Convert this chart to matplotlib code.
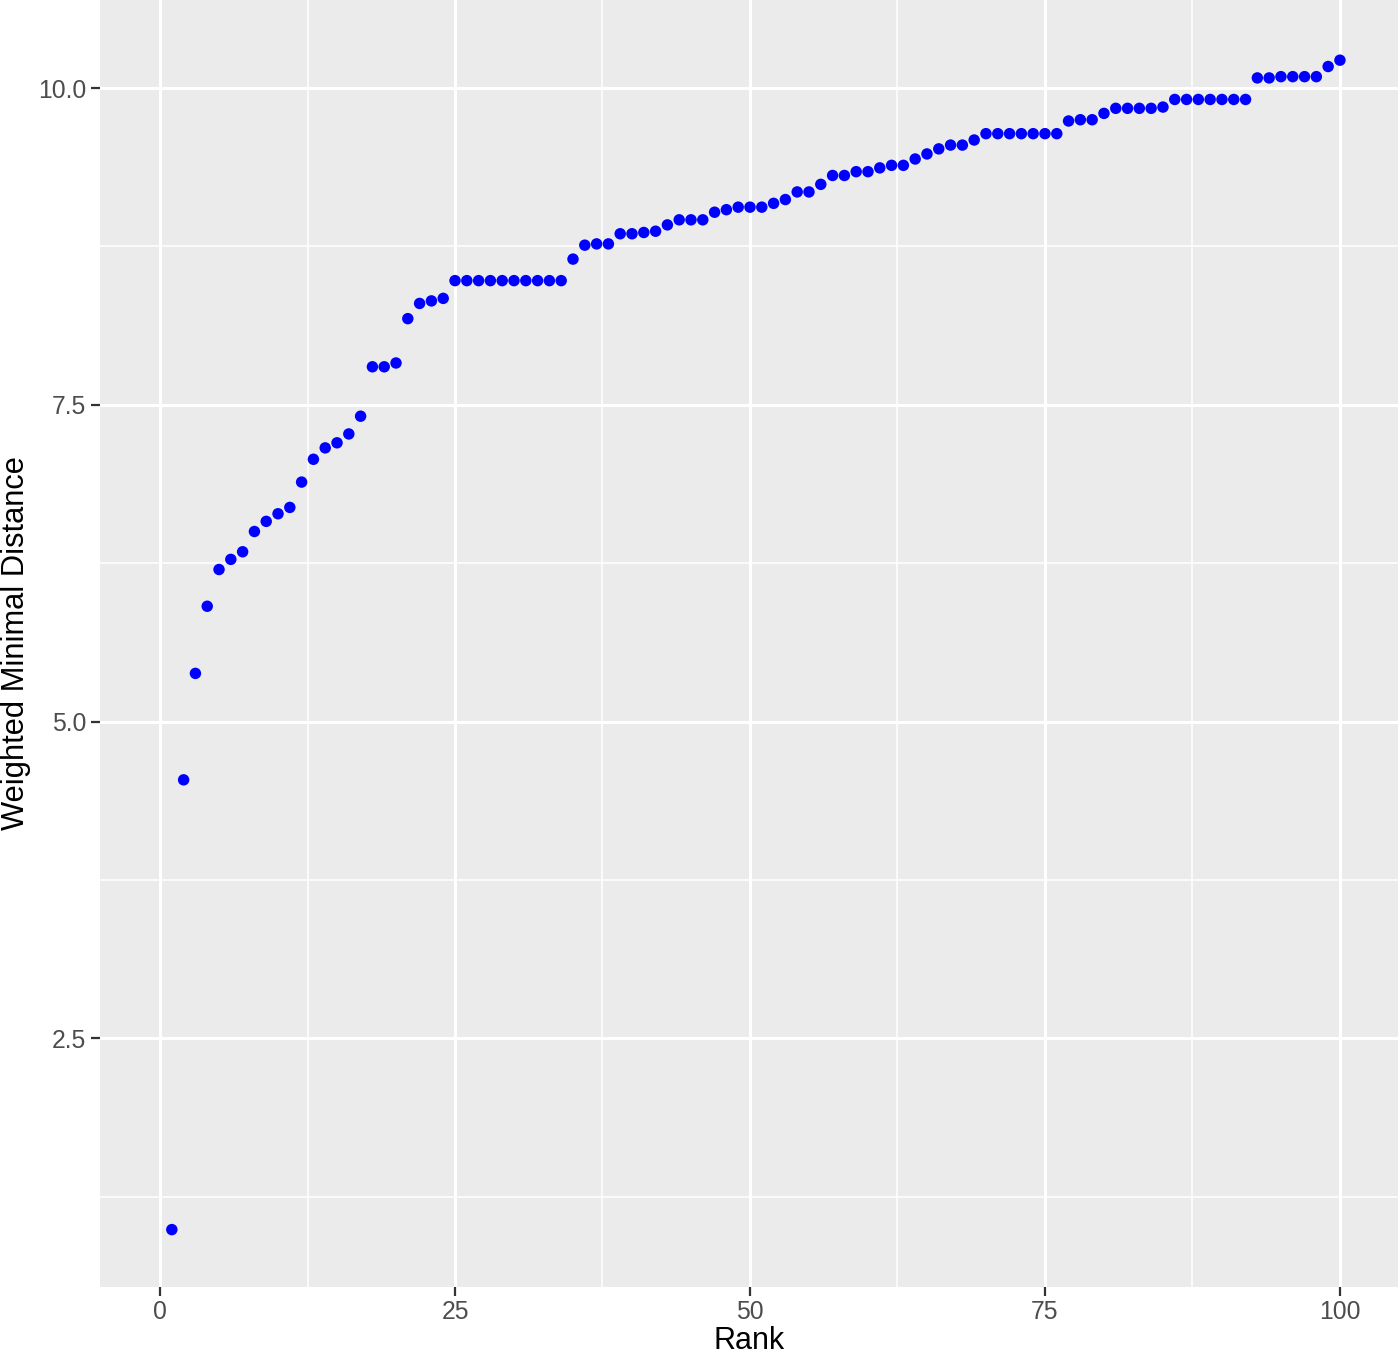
import matplotlib
matplotlib.use("Agg")
import matplotlib.pyplot as plt
import numpy as np

plt.rcParams['font.family'] = ['Liberation Sans', 'DejaVu Sans']

rank = list(range(1, 101))
distance = [
    0.99, 4.54, 5.38, 5.91, 6.20, 6.28, 6.34, 6.50, 6.58, 6.64,
    6.69, 6.89, 7.07, 7.16, 7.20, 7.27, 7.41, 7.80, 7.80, 7.83,
    8.18, 8.30, 8.32, 8.34,
    8.48, 8.48, 8.48, 8.48, 8.48, 8.48, 8.48, 8.48, 8.48, 8.48,
    8.65, 8.76, 8.77, 8.77, 8.85, 8.85, 8.86, 8.87, 8.92, 8.96,
    8.96, 8.96, 9.02, 9.04, 9.06, 9.06, 9.06, 9.09, 9.12, 9.18,
    9.18, 9.24, 9.31, 9.31, 9.34, 9.34, 9.37, 9.39, 9.39, 9.44,
    9.48, 9.52, 9.55, 9.55, 9.59,
    9.64, 9.64, 9.64, 9.64, 9.64, 9.64, 9.64,
    9.74, 9.75, 9.75, 9.80, 9.84, 9.84, 9.84, 9.84, 9.85,
    9.91, 9.91, 9.91, 9.91, 9.91, 9.91, 9.91,
    10.08, 10.08, 10.09, 10.09, 10.09, 10.09, 10.17, 10.22,
]

x_ticks = [0, 25, 50, 75, 100]
x_minor = [12.5, 37.5, 62.5, 87.5]
y_ticks = [2.5, 5.0, 7.5, 10.0]
y_minor = [1.25, 3.75, 6.25, 8.75]

W, H = 1400, 1356
fig = plt.figure(figsize=(W / 100, H / 100), dpi=100)
left, right, top, bottom = 99.5, 1398, 0, 1287
ax = fig.add_axes([left / W, (H - bottom) / H, (right - left) / W, (bottom - top) / H])
ax.set_facecolor('#EBEBEB')
for s in ax.spines.values():
    s.set_visible(False)

ax.set_xlim(-5.13, 104.92)
ax.set_ylim(0.537, 10.695)

for v in x_minor:
    ax.axvline(v, color='white', lw=1.1, zorder=0)
for v in y_minor:
    ax.axhline(v, color='white', lw=1.1, zorder=0)
for v in x_ticks:
    ax.axvline(v, color='white', lw=2.2, zorder=0)
for v in y_ticks:
    ax.axhline(v, color='white', lw=2.2, zorder=0)

ax.scatter(rank, distance, s=68, color='#0000FF', edgecolors='none', zorder=3)

ax.set_xticks(x_ticks)
ax.set_xticklabels([str(v) for v in x_ticks])
ax.set_yticks(y_ticks)
ax.set_yticklabels([f"{v:.1f}" for v in y_ticks])
ax.tick_params(axis='both', colors='#333333', length=6.5, width=1.6,
               labelsize=17.8, labelcolor='#4D4D4D', pad=3)

ax.set_xlabel('Rank', fontsize=22.0, color='black', labelpad=1)
ax.set_ylabel('Weighted Minimal Distance', fontsize=22.2, color='black', labelpad=5)

fig.savefig('out.png', dpi=100, facecolor='white')
